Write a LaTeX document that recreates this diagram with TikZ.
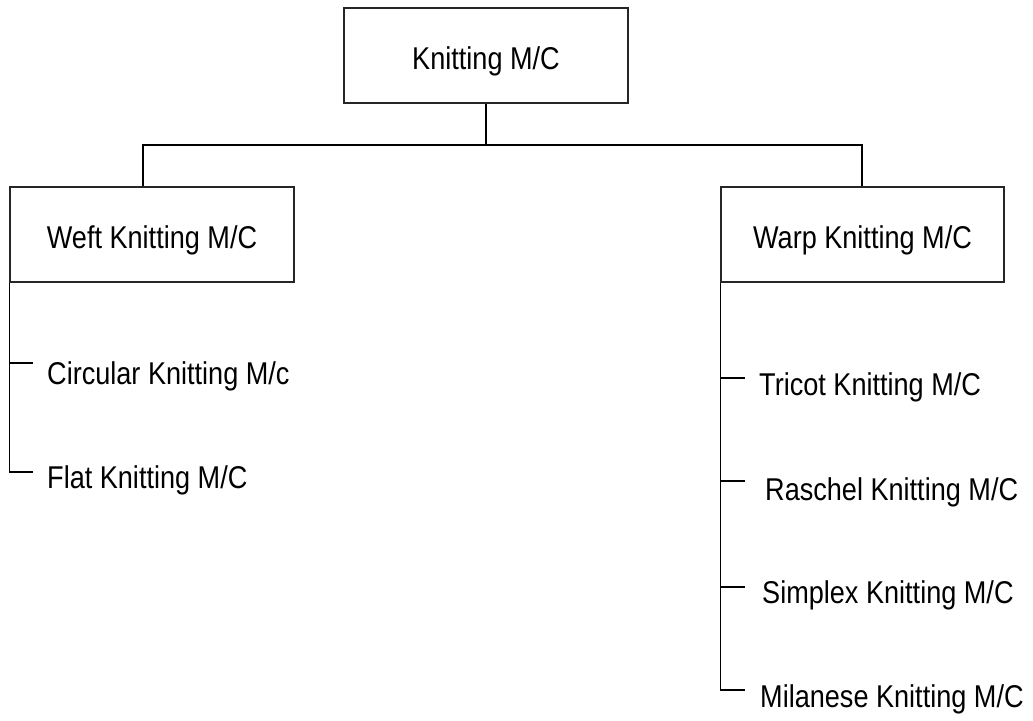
\documentclass[tikz,border=0pt]{standalone}
\usepackage{fontspec}
\setmainfont{Liberation Sans}[FakeStretch=0.86]
\begin{document}
\begin{tikzpicture}[x=1pt,y=-1pt,
  every node/.style={font=\fontsize{31.5}{37}\selectfont},
  box/.style={draw=black!85,line width=1.2pt,minimum width=284pt,minimum height=95pt,inner sep=0pt,text height=28pt,text depth=0pt},
  leaf/.style={anchor=base west,inner sep=0pt},
  conn/.style={draw=black,line width=1.2pt}]
\useasboundingbox (0,0) rectangle (1033,720);
\node[box] (top) at (486,55.5) {Knitting M/C};
\node[box] (weft) at (152,234.5) {Weft Knitting M/C};
\node[box,minimum width=283pt] (warp) at (862.5,234.5) {Warp Knitting M/C};
\coordinate (bus) at (486,145);
\coordinate (bl) at (143,145);
\coordinate (br) at (862,145);
\draw[conn] (top.south) -- (bus);
\draw[conn] (bl |- weft.north) |- (bus) -| (br |- warp.north);
% weft leaves
\node[leaf] (circ) at (47,384) {Circular Knitting M/c};
\node[leaf] (flat) at (47,488) {Flat Knitting M/C};
\coordinate (tc) at (33,363);
\coordinate (tf) at (33,472);
\draw[conn] (weft.south west |- tc) -- (tc);
\draw[conn] (weft.south west) |- (tf);
% warp leaves
\node[leaf] (tri) at (759,395) {Tricot Knitting M/C};
\node[leaf] (ras) at (765,500) {Raschel Knitting M/C};
\node[leaf] (sim) at (762,603) {Simplex Knitting M/C};
\node[leaf] (mil) at (760,707) {Milanese Knitting M/C};
\coordinate (tt) at (745,378);
\coordinate (tr) at (745,481);
\coordinate (ts) at (745,587);
\coordinate (tm) at (745,690);
\draw[conn] (warp.south west |- tt) -- (tt);
\draw[conn] (warp.south west |- tr) -- (tr);
\draw[conn] (warp.south west |- ts) -- (ts);
\draw[conn] (warp.south west) |- (tm);
\end{tikzpicture}
\end{document}
